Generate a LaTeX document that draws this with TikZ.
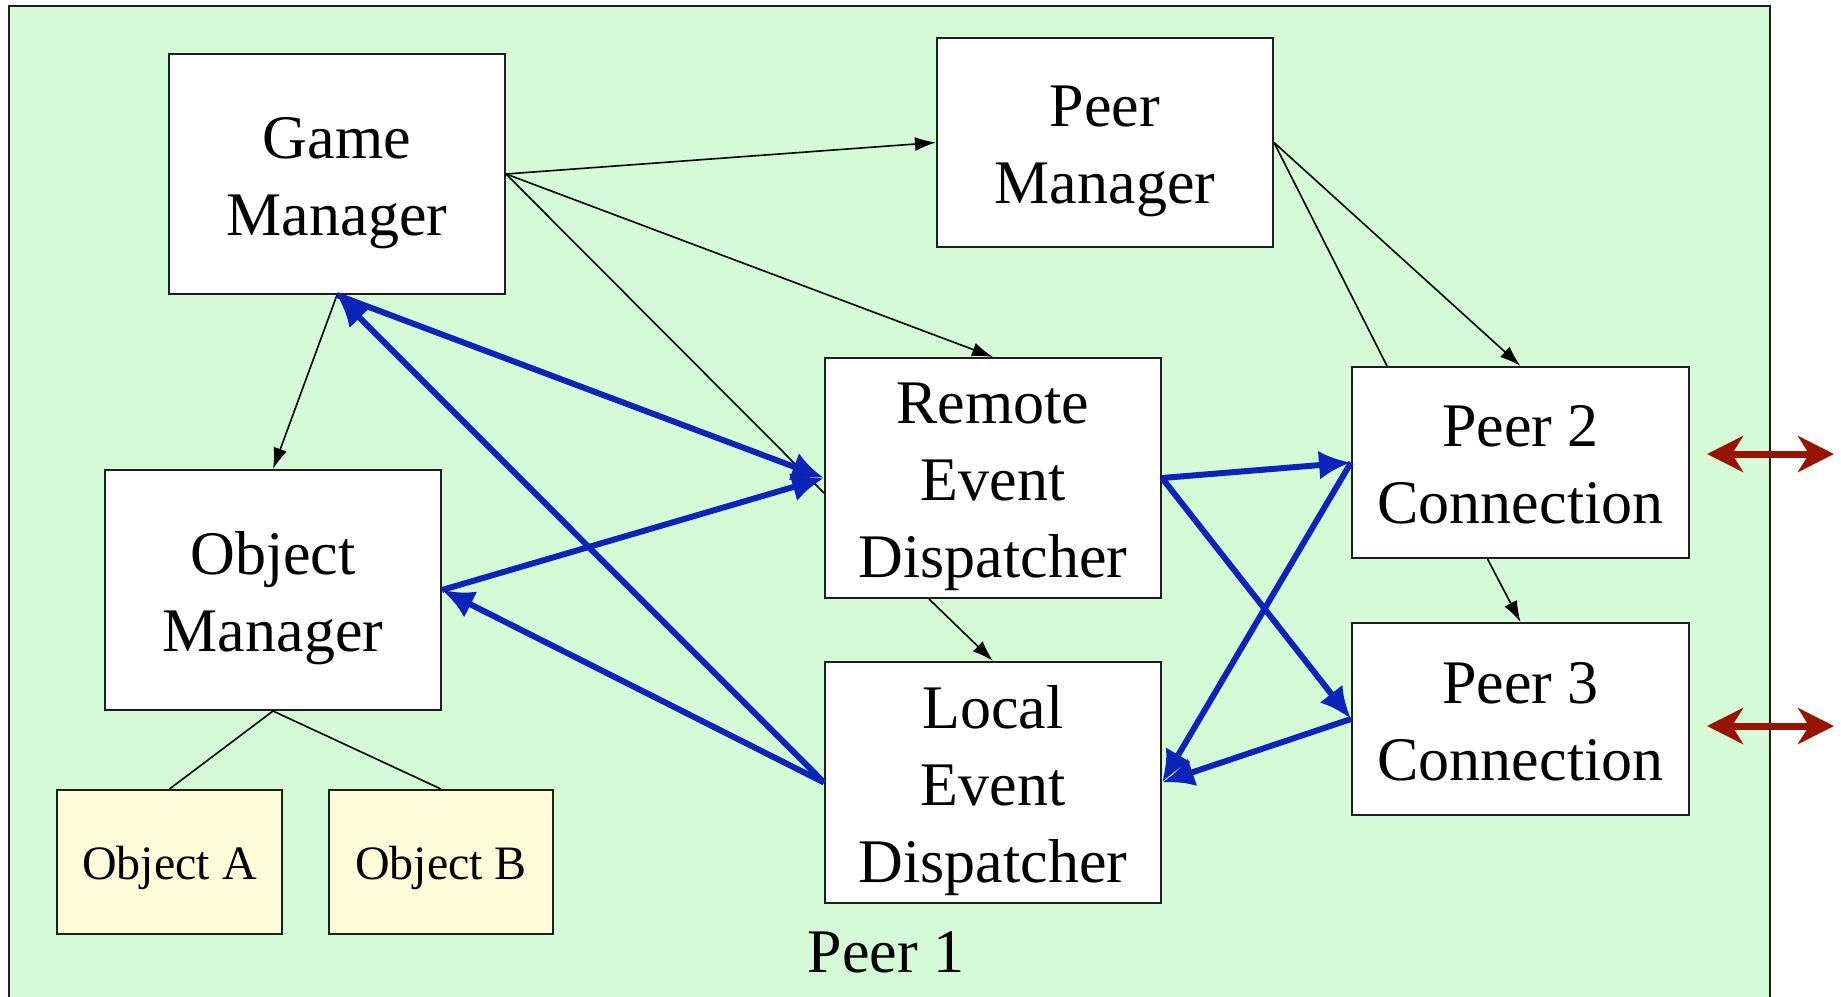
\documentclass[tikz,border=0pt]{standalone}
\usepackage{fontspec}
\setmainfont{Liberation Serif}
\usetikzlibrary{arrows.meta,calc}
\definecolor{bggreen}{RGB}{212,251,213}
\definecolor{objyellow}{RGB}{255,253,217}
\definecolor{arrowblue}{RGB}{12,36,186}
\definecolor{arrowred}{RGB}{153,20,0}
\definecolor{boxline}{RGB}{30,30,30}
\newcommand\TopStrut{\rule{0pt}{61pt}}
\newcommand\BotStrut{\rule[-16pt]{0pt}{16pt}}
\newcommand\SmTop{\rule{0pt}{47pt}}
\newcommand\SmBot{\rule[-12.5pt]{0pt}{12.5pt}}
\tikzset{
  box/.style={draw=boxline, line width=2pt, fill=white, minimum width=336pt,
    minimum height=240pt, inner sep=0pt, align=center,
    font=\fontsize{62pt}{77pt}\selectfont},
  objbox/.style={box, fill=objyellow, minimum width=225pt, minimum height=144pt,
    font=\fontsize{48pt}{58pt}\selectfont},
  thinline/.style={draw=black, line width=1.6pt},
  thinarrow/.style={thinline, -{Latex[length=21pt,width=14pt]}},
  bluearrow/.style={draw=arrowblue, line width=6pt, -{Latex[length=32pt,width=29pt]}},
  redarrow/.style={draw=arrowred, line width=7pt,
    {Stealth[length=36pt,width=36pt,inset=11pt]}-{Stealth[length=36pt,width=36pt,inset=11pt]}}
}
\begin{document}
\begin{tikzpicture}[x=1pt,y=-1pt]
\useasboundingbox (0,0) rectangle (1841,996);
\clip (0,0) rectangle (1841,996);
% outer frame
\draw[fill=bggreen, draw=boxline, line width=1.5pt] (9,6) rectangle (1770,1030);

% boxes
\node[box] (gm) at (337,174) {\TopStrut Game\\Manager\BotStrut};
\node[box, minimum height=209pt] (pm) at (1105,142.5) {\TopStrut Peer\\Manager\BotStrut};
\node[box] (om) at (273,590) {\TopStrut Object\\Manager\BotStrut};
\node[box] (red) at (993,478) {\TopStrut Remote\\Event\\Dispatcher\BotStrut};
\node[box, minimum height=241pt] (led) at (993,782.5) {\TopStrut Local\\Event\\Dispatcher\BotStrut};
\node[box, minimum width=337pt, minimum height=191pt] (p2) at (1520.5,462.5) {\TopStrut Peer 2\\Connection\BotStrut};
\node[box, minimum width=337pt, minimum height=192pt] (p3) at (1520.5,719) {\TopStrut Peer 3\\Connection\BotStrut};
\node[objbox] (oa) at (169.5,862) {\SmTop Object A\SmBot};
\node[objbox, minimum width=224pt] (ob) at (441,862) {\SmTop Object B\SmBot};
\node[font=\fontsize{62pt}{77pt}\selectfont, anchor=base, inner sep=0pt] (peer1) at (886,972) {Peer 1};

% helper coordinates
\coordinate (redwl) at ($(red.west)+(0,15)$);
\coordinate (p2top) at ($(p2.north west)+(36,0)$);
\coordinate (p2bot) at ($(p2.south)+(-33,0)$);
\coordinate (redbot) at ($(red.south)+(-64,0)$);
\coordinate (r2a) at ($(p2.east)+(17,-8.5)$);
\coordinate (r2b) at ($(p2.east)+(144,-8.5)$);
\coordinate (r3a) at ($(p3.east)+(17,7)$);
\coordinate (r3b) at ($(p3.east)+(144,7)$);

% thin black connectors
\draw[thinarrow] (gm.east) -- (pm.west);
\draw[thinarrow] (gm.east) -- (red.north);
\draw[thinline] (gm.east) -- (redwl);
\draw[thinarrow] (gm.south) -- (om.north);
\draw[thinarrow] (pm.east) -- (p2.north);
\draw[thinline] (pm.east) -- (p2top);
\draw[thinarrow] (p2bot) -- (p3.north);
\draw[thinarrow] (redbot) -- (led.north);
\draw[thinline] (om.south) -- (oa.north);
\draw[thinline] (om.south) -- (ob.north);

% blue connectors
\draw[bluearrow] (gm.south) -- (red.west);
\draw[bluearrow] (om.east) -- (red.west);
\draw[bluearrow] (led.west) -- (gm.south);
\draw[bluearrow] (led.west) -- (om.east);
\draw[bluearrow] (red.east) -- (p2.west);
\draw[bluearrow] (red.east) -- (p3.west);
\draw[bluearrow] (p2.west) -- (led.east);
\draw[bluearrow] (p3.west) -- (led.east);

% red double arrows
\draw[redarrow] (r2a) -- (r2b);
\draw[redarrow] (r3a) -- (r3b);
\end{tikzpicture}
\end{document}
